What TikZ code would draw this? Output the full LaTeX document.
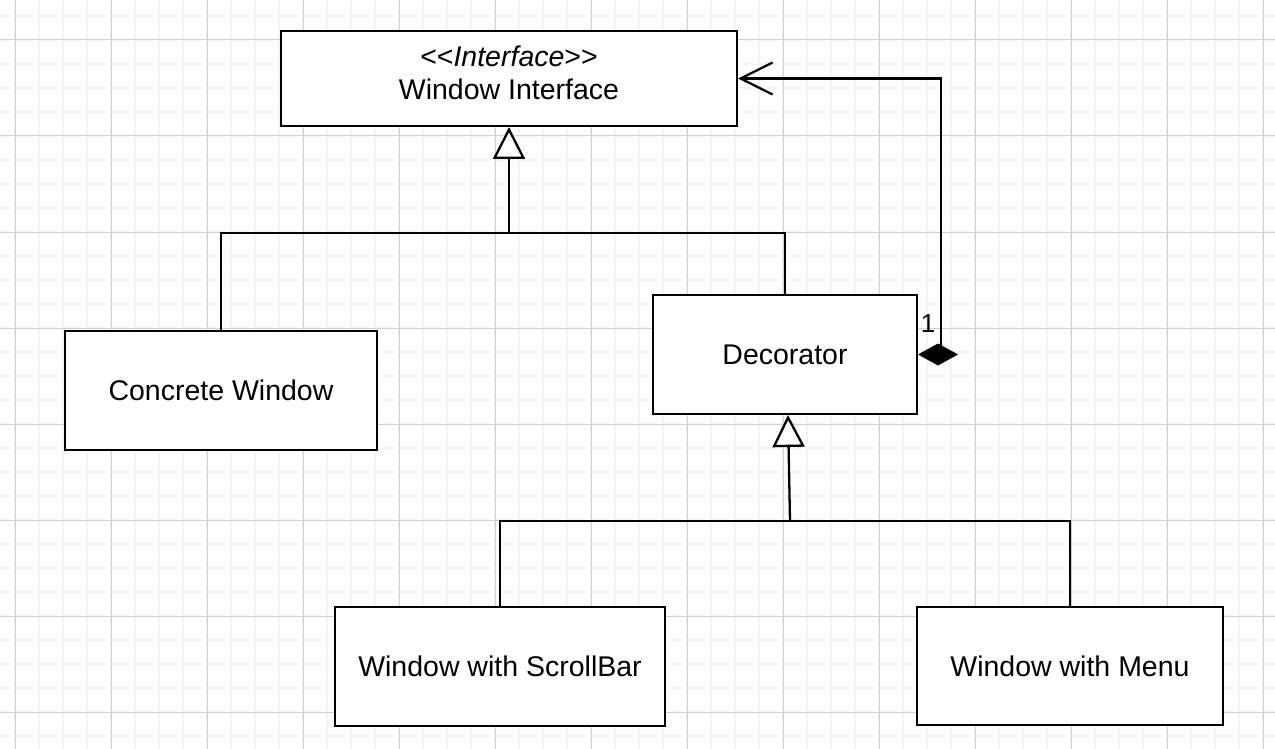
\documentclass[tikz,border=0pt]{standalone}
\usepackage{fontspec}
\setmainfont{Liberation Sans}
\usetikzlibrary{arrows.meta,calc}
\definecolor{gridminor}{HTML}{F3F3F3}
\definecolor{gridmajor}{HTML}{D0D0D0}
\begin{document}
\begin{tikzpicture}[x=1pt,y=-1pt,
  cls/.style={draw=black,line width=2pt,fill=white,inner sep=0pt,anchor=north west,
    font=\fontsize{28.5}{33}\selectfont,align=center},
  txt/.style={inner sep=0pt,font=\fontsize{28.5}{33}\selectfont,align=center},
  conn/.style={line width=2.3pt,draw=black},
  gen/.style={conn,-{Triangle[open,fill=white,length=32pt,width=32pt,line width=2.3pt]}},
  assoc/.style={conn,-{Straight Barb[length=32pt,width=32pt,line width=2.3pt]}}]
\useasboundingbox (0,0) rectangle (1275,749);
\fill[white] (0,0) rectangle (1275,749);
% grid
\foreach \x in {15,39,...,1263} \draw[gridminor,line width=2pt] (\x,0) -- (\x,749);
\foreach \y in {16,40,...,736} \draw[gridminor,line width=2pt] (0,\y) -- (1275,\y);
\foreach \x in {15,111,...,1263} \draw[gridmajor,line width=1pt] (\x,0) -- (\x,749);
\foreach \y in {40,136,...,712} \draw[gridmajor,line width=1pt] (0,\y) -- (1275,\y);
% classes
\node[cls,minimum width=456pt,minimum height=95pt] (wi) at (280,30) {};
\node[txt] (wit) at ($(wi.center)+(0,-6)$)
  {{<}{<}\textit{Interface}{>}{>}\\Window Interface};
\node[cls,minimum width=312pt,minimum height=119pt] (cw) at (64,330) {Concrete Window};
\node[cls,minimum width=264pt,minimum height=119pt] (dec) at (652,294) {Decorator};
\node[cls,minimum width=330pt,minimum height=119pt] (sb) at (334,606) {Window with ScrollBar};
\node[cls,minimum width=306pt,minimum height=118pt] (menu) at (916,606) {Window with Menu};
% generalization: window interface
\coordinate (j1) at (wi.south |- 0,233);
\draw[conn] (cw.north) |- (j1);
\draw[conn] (dec.north) |- (j1);
\draw[gen] (j1) -- (wi.south);
% generalization: decorator
\coordinate (j2) at (790,521);
\draw[conn] (sb.north) |- (j2);
\draw[conn] (menu.north) |- (j2);
\draw[gen] (j2) -- ($(dec.south)+(3,0)$);
% composition
\coordinate (c0) at ($(dec.east)+(23,-6)$);
\draw[assoc] (c0) |- (wi.east);
\fill[black] (dec.east) -- ++(20,-11) -- ++(20,11) -- ++(-20,11) -- cycle;
\node[font=\fontsize{26}{30}\selectfont,inner sep=0pt] (one) at (928,324) {1};
\end{tikzpicture}
\end{document}
